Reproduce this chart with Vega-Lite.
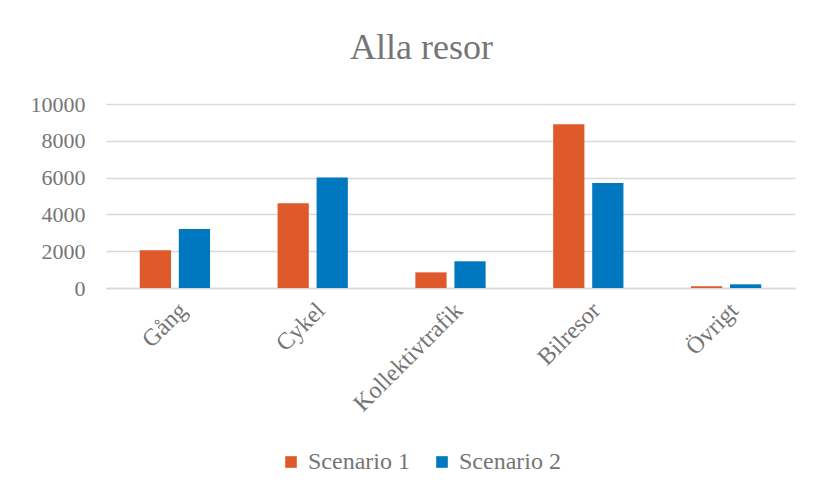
{
  "$schema": "https://vega.github.io/schema/vega-lite/v6.json",
  "width": 689,
  "height": 184,
  "autosize": {"type": "none"},
  "padding": {"left": 106, "top": 104, "right": 18, "bottom": 206},
  "background": "white",
  "title": {
    "text": "Alla resor",
    "font": "Liberation Serif",
    "fontSize": 36,
    "fontWeight": "normal",
    "color": "#757575",
    "anchor": "middle",
    "frame": "group",
    "dx": -29,
    "baseline": "alphabetic",
    "offset": -2
  },
  "data": {
    "values": [
      {"kategori": "Gång", "scenario": "Scenario 1", "antal": 2050},
      {"kategori": "Gång", "scenario": "Scenario 2", "antal": 3200},
      {"kategori": "Cykel", "scenario": "Scenario 1", "antal": 4600},
      {"kategori": "Cykel", "scenario": "Scenario 2", "antal": 6000},
      {"kategori": "Kollektivtrafik", "scenario": "Scenario 1", "antal": 850},
      {"kategori": "Kollektivtrafik", "scenario": "Scenario 2", "antal": 1450},
      {"kategori": "Bilresor", "scenario": "Scenario 1", "antal": 8900},
      {"kategori": "Bilresor", "scenario": "Scenario 2", "antal": 5700},
      {"kategori": "Övrigt", "scenario": "Scenario 1", "antal": 90},
      {"kategori": "Övrigt", "scenario": "Scenario 2", "antal": 200}
    ]
  },
  "mark": {"type": "bar"},
  "encoding": {
    "x": {
      "field": "kategori",
      "type": "nominal",
      "sort": ["Gång", "Cykel", "Kollektivtrafik", "Bilresor", "Övrigt"],
      "scale": {"paddingInner": 0.49, "paddingOuter": 0.245},
      "axis": {
        "title": null,
        "labelAngle": -45,
        "labelFont": "Liberation Serif",
        "labelFontSize": 24,
        "labelColor": "#757575",
        "labelPadding": 10,
        "ticks": false,
        "domainColor": "#D9D9D9",
        "domainWidth": 1.5,
        "labelLimit": 300
      }
    },
    "xOffset": {
      "field": "scenario",
      "type": "nominal",
      "scale": {"paddingInner": 0.2, "paddingOuter": 0}
    },
    "y": {
      "field": "antal",
      "type": "quantitative",
      "scale": {"domain": [0, 10000]},
      "axis": {
        "title": null,
        "values": [0, 2000, 4000, 6000, 8000, 10000],
        "format": "d",
        "labelFont": "Liberation Serif",
        "labelFontSize": 22,
        "labelColor": "#757575",
        "labelPadding": 21,
        "ticks": false,
        "domain": false,
        "gridColor": "#D9D9D9",
        "gridWidth": 1.5
      }
    },
    "color": {
      "field": "scenario",
      "type": "nominal",
      "scale": {"domain": ["Scenario 1", "Scenario 2"], "range": ["#DE5A2B", "#0078C0"]},
      "legend": {
        "title": null,
        "orient": "none",
        "direction": "horizontal",
        "legendX": 173,
        "legendY": 346,
        "symbolType": "square",
        "symbolSize": 135,
        "symbolStrokeWidth": 0,
        "labelFont": "Liberation Serif",
        "labelFontSize": 24,
        "labelColor": "#757575",
        "labelOffset": 5,
        "columnPadding": 20,
        "labelLimit": 300
      }
    }
  },
  "config": {
    "view": {"stroke": null}
  }
}
